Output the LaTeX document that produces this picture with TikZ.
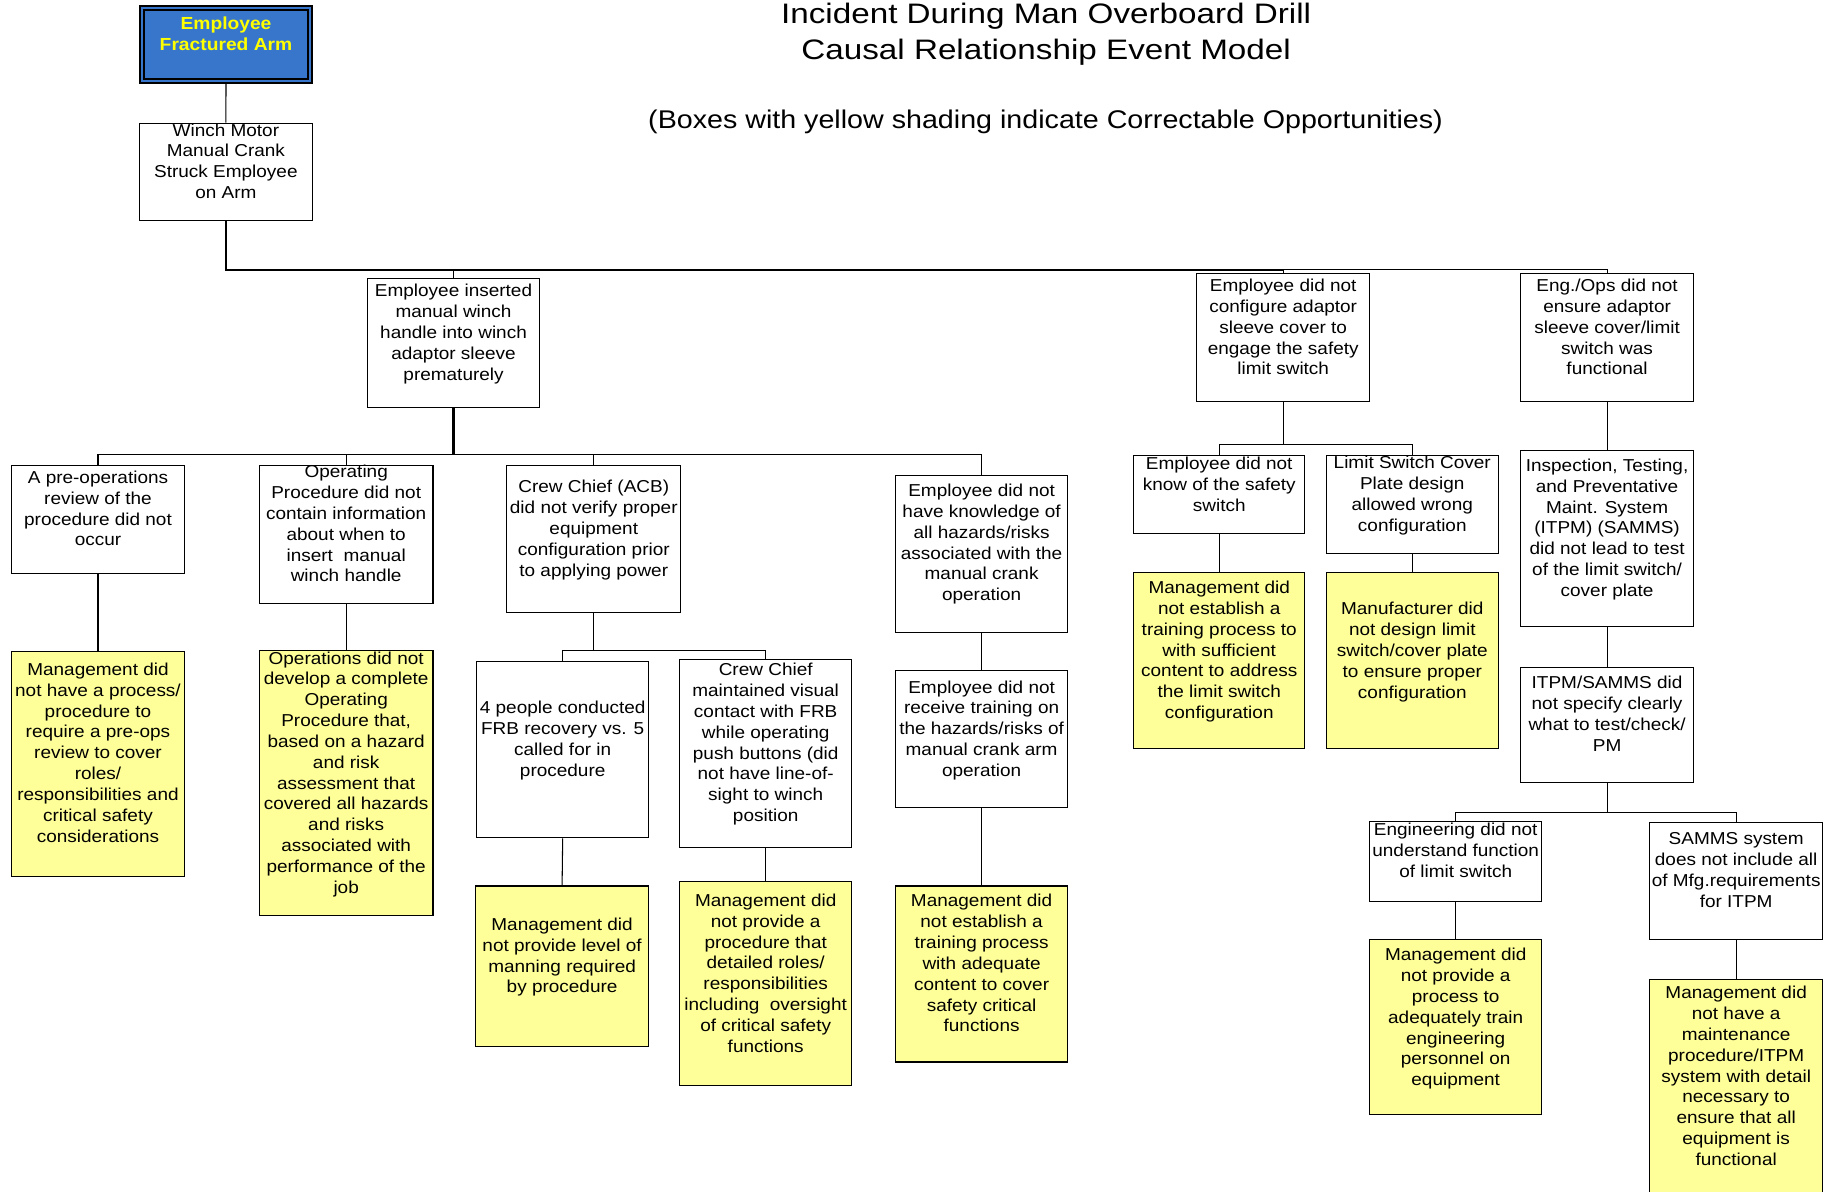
\documentclass[tikz,border=0pt]{standalone}
\usepackage{fontspec}
\setmainfont{Liberation Sans}
\newfontfamily\bxfont{Liberation Sans}[FakeStretch=1.10]
\newfontfamily\ttlfont{Liberation Sans}[FakeStretch=1.18]
\newfontfamily\subfont{Liberation Sans}[FakeStretch=1.12]
\definecolor{cyel}{RGB}{255,255,153}
\definecolor{cblue}{RGB}{56,118,204}
\definecolor{ctxt}{RGB}{255,255,0}
\tikzset{
  box/.style={draw, rectangle, line width=0.9pt, inner sep=0pt},
  wbox/.style={box, fill=white},
  ybox/.style={box, fill=cyel},
  topbox/.style={draw, rectangle, inner sep=0pt, line width=1.5pt, double=cblue, double distance=1.8pt, fill=cblue},
  txt/.style={align=center, inner sep=0pt, yshift=-2pt, font=\bxfont\fontsize{14.7}{17.75}\selectfont},
  conn/.style={line width=0.9pt},
  heavy/.style={line width=1.8pt},
}
\begin{document}
\begin{tikzpicture}[x=1pt, y=-1pt]
\useasboundingbox (0,0) rectangle (1568,1015);

% titles
\node[font=\ttlfont\fontsize{24}{30.6}\selectfont, align=center, inner sep=0pt] (title) at (891.5,29.1)
  {\strut Incident During Man Overboard Drill\\Causal Relationship Event Model\strut};
\node[font=\subfont\fontsize{21.8}{26}\selectfont, anchor=base, inner sep=0pt] (subtitle) at (891,109.4)
  {(Boxes with yellow shading indicate Correctable Opportunities)};

% level 0 / 1
\node[topbox, minimum width=143pt, minimum height=62.5pt] (top) at (192.6,37.95) {};
\node[txt, text=ctxt, font=\bxfont\bfseries\fontsize{14.9}{18}\selectfont] (topt) at (192.6,28.4) {\strut Employee\\Fractured Arm\strut};

\node[wbox, minimum width=147pt, minimum height=83pt] (winch) at (192.5,146.5) {};
\node[txt] (wincht) at (192.5,137) {\strut Winch Motor\\Manual Crank\\Struck Employee\\on Arm\strut};

% level 2
\node[wbox, minimum width=147pt, minimum height=110pt] (ei) at (386.5,292) {};
\node[txt] (eit) at (386.5,283) {\strut Employee inserted\\manual winch\\handle into winch\\adaptor sleeve\\prematurely\strut};

\node[wbox, minimum width=147pt, minimum height=109pt] (e) at (1093.5,287.5) {};
\node[txt] (et) at (1093.5,278.5) {\strut Employee did not\\configure adaptor\\sleeve cover to\\engage the safety\\limit switch\strut};

\node[wbox, minimum width=147pt, minimum height=109pt] (f) at (1369.5,287.5) {};
\node[txt] (ft) at (1369.5,278.5) {\strut Eng./Ops did not\\ensure adaptor\\sleeve cover/limit\\switch was\\functional\strut};

% children of ei
\node[wbox, minimum width=147pt, minimum height=92pt] (a) at (83.5,443) {};
\node[txt] (at) at (83.5,433) {\strut A pre-operations\\review of the\\procedure did not\\occur\strut};

\node[wbox, minimum width=148pt, minimum height=117pt] (b) at (295,455.5) {};
\node[txt] (bt) at (295,446) {\strut Operating\\Procedure did not\\contain information\\about when to\\insert\ \ manual\\winch handle\strut};

\node[wbox, minimum width=148pt, minimum height=125pt] (c) at (506,459.5) {};
\node[txt] (ct) at (506,450) {\strut Crew Chief (ACB)\\did not verify proper\\equipment\\configuration prior\\to applying power\strut};

\node[wbox, minimum width=147pt, minimum height=134pt] (d) at (836.5,472) {};
\node[txt] (dt) at (836.5,462) {\strut Employee did not\\have knowledge of\\all hazards/risks\\associated with the\\manual crank\\operation\strut};

\node[ybox, minimum width=147pt, minimum height=192pt] (ay) at (83.5,651) {};
\node[txt] (ayt) at (83.5,641) {\strut Management did\\not have a process/\\procedure to\\require a pre-ops\\review to cover\\roles/\\responsibilities and\\critical safety\\considerations\strut};

\node[ybox, minimum width=148pt, minimum height=226pt] (by) at (295,667) {};
\node[txt] (byt) at (295,658) {\strut Operations did not\\develop a complete\\Operating\\Procedure that,\\based on a hazard\\and risk\\assessment that\\covered all hazards\\and risks\\associated with\\performance of the\\job\strut};

% children of c
\node[wbox, minimum width=147pt, minimum height=150pt] (c1) at (479.5,639) {};
\node[txt] (c1t) at (479.5,629.5) {\strut 4 people conducted\\FRB recovery vs. 5\\called for in\\procedure\strut};

\node[wbox, minimum width=147pt, minimum height=160pt] (c2) at (652.5,642) {};
\node[txt] (c2t) at (652.5,632.5) {\strut Crew Chief\\maintained visual\\contact with FRB\\while operating\\push buttons (did\\not have line-of-\\sight to winch\\position\strut};

\node[ybox, minimum width=147pt, minimum height=137pt] (c1y) at (479,823.5) {};
\node[txt] (c1yt) at (479,814) {\strut Management did\\not provide level of\\manning required\\by procedure\strut};

\node[ybox, minimum width=147pt, minimum height=174pt] (c2y) at (652.5,838) {};
\node[txt] (c2yt) at (652.5,829) {\strut Management did\\not provide a\\procedure that\\detailed roles/\\responsibilities\\including\ \ oversight\\of critical safety\\functions\strut};

% children of d
\node[wbox, minimum width=147pt, minimum height=117pt] (d1) at (836.5,629.5) {};
\node[txt] (d1t) at (836.5,620.5) {\strut Employee did not\\receive training on\\the hazards/risks of\\manual crank arm\\operation\strut};

\node[ybox, minimum width=147pt, minimum height=150pt] (d1y) at (836.5,830) {};
\node[txt] (d1yt) at (836.5,820.5) {\strut Management did\\not establish a\\training process\\with adequate\\content to cover\\safety critical\\functions\strut};

% children of e
\node[wbox, minimum width=146pt, minimum height=67pt] (e1) at (1039,421.5) {};
\node[txt] (e1t) at (1039,412.5) {\strut Employee did not\\know of the safety\\switch\strut};

\node[wbox, minimum width=147pt, minimum height=84pt] (e2) at (1203.5,430) {};
\node[txt] (e2t) at (1203.5,420.5) {\strut Limit Switch Cover\\Plate design\\allowed wrong\\configuration\strut};

\node[ybox, minimum width=146pt, minimum height=150pt] (e1y) at (1039,563) {};
\node[txt] (e1yt) at (1039,553.5) {\strut Management did\\not establish a\\training process to\\with sufficient\\content to address\\the limit switch\\configuration\strut};

\node[ybox, minimum width=147pt, minimum height=150pt] (e2y) at (1203.5,563) {};
\node[txt] (e2yt) at (1203.5,554) {\strut Manufacturer did\\not design limit\\switch/cover plate\\to ensure proper\\configuration\strut};

% chain under f
\node[wbox, minimum width=147pt, minimum height=150pt] (g) at (1369.5,459) {};
\node[txt] (gt) at (1369.5,449.5) {\strut Inspection, Testing,\\and Preventative\\Maint. System\\(ITPM) (SAMMS)\\did not lead to test\\of the limit switch/\\cover plate\strut};

\node[wbox, minimum width=147pt, minimum height=98pt] (h) at (1369.5,618) {};
\node[txt] (ht) at (1369.5,608) {\strut ITPM/SAMMS did\\not specify clearly\\what to test/check/\\PM\strut};

\node[wbox, minimum width=147pt, minimum height=68pt] (h1) at (1240.5,734) {};
\node[txt] (h1t) at (1240.5,724.5) {\strut Engineering did not\\understand function\\of limit switch\strut};

\node[wbox, minimum width=147pt, minimum height=100pt] (h2) at (1479.5,751) {};
\node[txt] (h2t) at (1479.5,741) {\strut SAMMS system\\does not include all\\of Mfg.requirements\\for ITPM\strut};

\node[ybox, minimum width=147pt, minimum height=149pt] (h1y) at (1240.5,875.5) {};
\node[txt] (h1yt) at (1240.5,866.5) {\strut Management did\\not provide a\\process to\\adequately train\\engineering\\personnel on\\equipment\strut};

\node[ybox, minimum width=147pt, minimum height=183pt] (h2y) at (1479.5,926.5) {};
\node[txt] (h2yt) at (1479.5,916.5) {\strut Management did\\not have a\\maintenance\\procedure/ITPM\\system with detail\\necessary to\\ensure that all\\equipment is\\functional\strut};

% bus levels
\coordinate (busA) at (0,230);
\coordinate (busB) at (0,387);
\coordinate (busC) at (0,554);
\coordinate (busD) at (0,379);
\coordinate (busE) at (0,692);

% connectors
\draw[conn] (top.south) -- (winch.north);
\draw[heavy] (winch.south) -- (winch.south |- busA) -- (e.north |- busA);
\draw[conn] (e.north |- busA) -- (f.north |- busA) -- (f.north);
\draw[conn] (ei.north |- busA) -- (ei.north);
\draw[conn] (e.north |- busA) -- (e.north);

\draw[heavy] (ei.south) -- (ei.south |- busB);
\draw[conn] (a.north) -- (a.north |- busB) -- (d.north |- busB) -- (d.north);
\draw[conn] (b.north) -- (b.north |- busB);
\draw[conn] (c.north) -- (c.north |- busB);
\draw[conn] (a.south) -- (ay.north);
\draw[conn] (b.south) -- (by.north);

\draw[conn] (c.south) -- (c.south |- busC);
\draw[conn] (c1.north) -- (c1.north |- busC) -- (c2.north |- busC) -- (c2.north);
\draw[conn] (c1.south) -- (c1y.north);
\draw[conn] (c2.south) -- (c2y.north);

\draw[conn] (d.south) -- (d1.north);
\draw[conn] (d1.south) -- (d1y.north);

\draw[conn] (e.south) -- (e.south |- busD);
\draw[conn] (e1.north) -- (e1.north |- busD) -- (e2.north |- busD) -- (e2.north);
\draw[conn] (e1.south) -- (e1y.north);
\draw[conn] (e2.south) -- (e2y.north);

\draw[conn] (f.south) -- (g.north);
\draw[conn] (g.south) -- (h.north);
\draw[conn] (h.south) -- (h.south |- busE);
\draw[conn] (h1.north) -- (h1.north |- busE) -- (h2.north |- busE) -- (h2.north);
\draw[conn] (h1.south) -- (h1y.north);
\draw[conn] (h2.south) -- (h2y.north);
\end{tikzpicture}
\end{document}
